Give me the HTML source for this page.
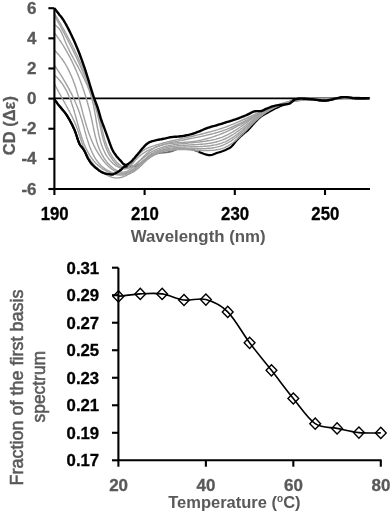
<!DOCTYPE html>
<html><head><meta charset="utf-8"><style>
html,body{margin:0;padding:0;background:#fff;width:392px;height:513px;overflow:hidden}
svg{display:block;font-family:"Liberation Sans",sans-serif;will-change:transform}
</style></head><body>
<svg width="392" height="513" viewBox="0 0 392 513">
<rect width="392" height="513" fill="#fff"/>
<line x1="54.5" y1="98.4" x2="370" y2="98.4" stroke="#000" stroke-width="1.6"/>
<path d="M54.5 99.3L55.5 100.8L56.5 102.2L57.5 103.6L58.5 104.9L59.5 106.1L60.5 107.3L61.5 108.5L62.5 109.7L63.5 110.9L64.5 112.1L65.5 113.4L66.5 114.8L67.5 116.4L68.5 118.1L69.5 119.8L70.5 121.7L71.5 123.6L72.5 125.6L73.5 127.7L74.5 129.9L75.5 132.5L76.5 135.5L77.5 138.6L78.5 141.5L79.5 144.0L80.5 145.7L81.5 146.8L82.5 147.9L83.5 149.3L84.5 151.1L85.5 153.1L86.5 155.2L87.5 157.4L88.5 159.3L89.5 160.9L90.5 162.4L91.5 163.7L92.5 164.8L93.5 165.8L94.5 166.7L95.5 167.6L96.5 168.4L97.5 169.2L98.5 170.0L99.5 170.8L100.5 171.4L101.5 171.9L102.5 172.4L103.5 172.9L104.5 173.3L105.5 173.6L106.5 173.8L107.5 174.0L108.5 174.1L109.5 174.2L110.5 174.3L111.5 174.3L112.5 174.3L113.5 174.1L114.5 173.7L115.5 173.3L116.5 172.7L117.5 172.1L118.5 171.5L119.5 170.9L120.5 170.2L121.5 169.2L122.5 168.1L123.5 167.3L124.5 166.7L125.5 166.6L126.5 166.5L127.5 166.5L128.5 166.4L129.5 166.4L130.5 166.4L131.5 166.4" fill="none" stroke="#000" stroke-width="2.2"/>
<path d="M198.5 151.9L199.5 152.2L200.5 152.5L201.5 152.9L202.5 153.3L203.5 153.7L204.5 154.0L205.5 154.4L206.5 154.7L207.5 154.9L208.5 155.1L209.5 155.2L210.5 155.2L211.5 155.0L212.5 154.7L213.5 154.3L214.5 153.9L215.5 153.5L216.5 153.1L217.5 152.8L218.5 152.5L219.5 152.2L220.5 151.9L221.5 151.5L222.5 151.2L223.5 150.8L224.5 150.4L225.5 150.0L226.5 149.5L227.5 149.1L228.5 148.6L229.5 148.0L230.5 147.3L231.5 146.5L232.5 145.5L233.5 144.3L234.5 143.0L235.5 141.7L236.5 140.6L237.5 139.5L238.5 138.5L239.5 137.5L240.5 136.5L241.5 135.6L242.5 134.6L243.5 133.8L244.5 133.0L245.5 132.2L246.5 131.4L247.5 130.6L248.5 129.6L249.5 128.5L250.5 127.3L251.5 126.2L252.5 125.1L253.5 123.9L254.5 122.8L255.5 121.7L256.5 120.7L257.5 119.7L258.5 118.7L259.5 117.8L260.5 117.0L261.5 116.2L262.5 115.5L263.5 114.9L264.5 114.4L265.5 113.8L266.5 113.3L267.5 112.7L268.5 112.1L269.5 111.6L270.5 111.0L271.5 110.4L272.5 109.9L273.5 109.4L274.5 108.8L275.5 108.3L276.5 107.9L277.5 107.4L278.5 107.0L279.5 106.5L280.5 106.1L281.5 105.7L282.5 105.3L283.5 104.9L284.5 104.5L285.5 104.0L286.5 103.5L287.5 103.0L288.5 102.5L289.5 102.0L290.5 101.5L291.5 101.0L292.5 100.6L293.5 100.2L294.5 99.9L295.5 99.6L296.5 99.3L297.5 99.1L298.5 98.9L299.5 98.8L300.5 98.8L301.5 98.8L302.5 98.8L303.5 98.9L304.5 98.9L305.5 99.0L306.5 99.1L307.5 99.2L308.5 99.2L309.5 99.3L310.5 99.4L311.5 99.5L312.5 99.5L313.5 99.6L314.5 99.7L315.5 99.9L316.5 100.0L317.5 100.1L318.5 100.2L319.5 100.4L320.5 100.5L321.5 100.6L322.5 100.6L323.5 100.7L324.5 100.7L325.5 100.7L326.5 100.6L327.5 100.5L328.5 100.3L329.5 100.1L330.5 99.9L331.5 99.7L332.5 99.4L333.5 99.2L334.5 99.0L335.5 98.8L336.5 98.6L337.5 98.4L338.5 98.1L339.5 97.9L340.5 97.7L341.5 97.5L342.5 97.4L343.5 97.3L344.5 97.3L345.5 97.3L346.5 97.4L347.5 97.5L348.5 97.6L349.5 97.7L350.5 97.8L351.5 98.0L352.5 98.1L353.5 98.2L354.5 98.2L355.5 98.3L356.5 98.3L357.5 98.3L358.5 98.3L359.5 98.3L360.5 98.4L361.5 98.4L362.5 98.4L363.5 98.4L364.5 98.4L365.5 98.4L366.5 98.4L367.5 98.4L368.5 98.4L369.5 98.4" fill="none" stroke="#000" stroke-width="2.2"/>
<path d="M131.5 166.4L132.5 166.4L133.5 166.3L134.5 166.3L135.5 166.1L136.5 165.6L137.5 165.1L138.5 164.4L139.5 163.8L140.5 163.2L141.5 162.5L142.5 161.8L143.5 161.0L144.5 160.2L145.5 159.3L146.5 158.5L147.5 157.6L148.5 156.8L149.5 156.1L150.5 155.5L151.5 155.0L152.5 154.6L153.5 154.3L154.5 154.0L155.5 153.8L156.5 153.6L157.5 153.4L158.5 153.2L159.5 153.1L160.5 152.9L161.5 152.8L162.5 152.7L163.5 152.6L164.5 152.5L165.5 152.4L166.5 152.3L167.5 152.2L168.5 152.0L169.5 151.9L170.5 151.7L171.5 151.4L172.5 151.1L173.5 150.6L174.5 150.2L175.5 149.8L176.5 149.4L177.5 149.0L178.5 148.8L179.5 148.6L180.5 148.6L181.5 148.6L182.5 148.6L183.5 148.7L184.5 148.7L185.5 148.8L186.5 148.9L187.5 149.0L188.5 149.1L189.5 149.1L190.5 149.3L191.5 149.5L192.5 149.7L193.5 150.0L194.5 150.4L195.5 150.8L196.5 151.1L197.5 151.5L198.5 151.9" fill="none" stroke="#707070" stroke-width="1.8"/>
<path d="M54.5 13.6L55.1 14.6L55.7 15.6L56.4 16.7L57.0 17.7L57.6 18.7L58.2 19.8L58.8 20.8L59.4 21.8L60.0 22.9L60.6 23.9L61.2 24.9L61.8 26.0L62.4 27.0L63.0 28.1L63.6 29.1L64.1 30.2L64.7 31.2L65.3 32.3L65.9 33.3L66.4 34.4L67.0 35.4L67.6 36.5L68.1 37.6L68.7 38.6L69.3 39.7L69.8 40.7L70.4 41.8L70.9 42.9L71.5 43.9L72.0 45.0L72.6 46.1L73.1 47.2L73.6 48.2L74.2 49.3L74.7 50.4L75.2 51.5L75.7 52.5L76.2 53.6L76.8 54.7L77.3 55.8L77.8 56.9L78.3 58.0L78.8 59.1L79.3 60.2L79.8 61.3L80.3 62.4L80.8 63.5L81.2 64.6L81.7 65.7L82.2 66.8L82.7 67.9L83.1 69.0L83.6 70.1L84.1 71.2L84.5 72.3L85.0 73.4L85.4 74.5L85.9 75.6L86.3 76.8L86.8 77.9L87.2 79.0L87.6 80.1L88.1 81.3L88.5 82.4L88.9 83.5L89.3 84.6L89.7 85.8L90.1 86.9L90.5 88.0L90.9 89.2L91.3 90.3L91.7 91.5L92.1 92.6L92.5 93.7L92.9 94.9L93.3 96.0L93.6 97.2L94.0 98.3L94.4 99.5L94.7 100.6L95.1 101.8L95.4 102.9L95.8 104.1L96.1 105.3L96.4 106.4L96.8 107.6L97.1 108.8L97.4 109.9L97.7 111.1L98.0 112.3L98.3 113.4L98.7 114.6L99.0 115.8L99.2 117.0L99.5 118.2L99.8 119.3L100.1 120.5L100.4 121.7L100.6 122.9L100.9 124.1L101.2 125.3L101.5 126.5L101.7 127.6L102.0 128.8L102.3 130.0L102.5 131.2L102.8 132.4L103.1 133.5L103.4 134.7L103.7 135.9L104.0 137.1L104.3 138.2L104.7 139.4L105.0 140.5L105.4 141.7L105.8 142.8L106.2 143.9L106.6 145.0L107.0 146.2L107.4 147.3L107.9 148.4L108.4 149.4L108.9 150.5L109.4 151.6L110.0 152.6L110.5 153.7L111.2 154.7L111.8 155.7L112.4 156.8L113.1 157.8L113.9 158.7L114.6 159.7L115.4 160.7L116.2 161.6L117.0 162.5L117.9 163.3L118.8 164.1L119.7 164.8L120.6 165.5L121.5 166.1L122.4 166.5L123.4 166.9L124.3 167.1L125.2 167.3L126.2 167.2L127.1 167.1L128.0 166.7L128.9 166.2L129.7 165.6L130.6 164.7L131.4 163.8L132.3 162.7L133.1 161.6L133.9 160.4L134.8 159.2L135.6 158.0L136.5 156.9L137.4 155.8L138.3 154.8L139.2 153.8L140.1 153.0L141.0 152.2L142.0 151.4L143.0 150.7L144.0 150.1L145.0 149.5L146.0 148.9L147.0 148.4L148.1 147.9L149.1 147.5L150.2 147.1L151.3 146.7L152.3 146.3L153.4 145.9L154.5 145.6L155.6 145.2L156.7 144.9L157.8 144.6L158.9 144.3L160.0 143.9L161.1 143.6L162.2 143.3L163.4 143.0L164.5 142.7L165.6 142.4L166.7 142.1L167.9 141.8L169.0 141.6L170.2 141.3L171.3 141.0L172.4 140.7L173.6 140.4L174.7 140.2L175.9 139.9L177.1 139.6L178.2 139.4L179.4 139.1L180.5 138.8L181.7 138.6L182.9 138.3L184.0 138.1L185.2 137.8L186.4 137.5L187.5 137.3L188.7 137.0L189.9 136.7L191.0 136.5L192.2 136.2L193.4 136.0L194.6 135.7L195.7 135.4L196.9 135.1L198.1 134.9L199.3 134.6L200.4 134.3L201.6 134.0L202.8 133.7L204.0 133.4L205.1 133.1L206.3 132.8L207.5 132.5L208.6 132.2L209.8 131.9L211.0 131.6L212.1 131.3L213.3 130.9L214.5 130.6L215.6 130.3L216.8 129.9L217.9 129.6L219.1 129.2L220.2 128.8L221.4 128.5L222.5 128.1L223.7 127.7L224.8 127.3L226.0 126.9L227.1 126.5L228.2 126.0L229.4 125.6L230.5 125.2L231.6 124.7L232.7 124.3L233.8 123.8L235.0 123.4L236.1 122.9L237.2 122.4L238.3 121.9L239.4 121.5L240.5 121.0L241.6 120.5L242.7 120.0L243.8 119.5L244.9 119.0L246.0 118.5L247.1 118.0L248.2 117.5L249.3 117.0L250.4 116.5L251.5 116.0L252.6 115.5L253.7 115.0L254.8 114.5L255.9 114.0L257.0 113.5L258.1 113.0L259.2 112.5L260.2 112.0L261.3 111.5L262.4 111.1L263.5 110.6L264.6 110.1L265.7 109.7L266.8 109.2L267.9 108.7L269.0 108.3L270.1 107.9L271.2 107.4L272.3 107.0L273.4 106.6L274.5 106.2L275.6 105.8L276.8 105.4L277.9 105.0L279.0 104.6L280.1 104.3L281.2 103.9L282.3 103.6L283.5 103.2L284.6 102.9L285.7 102.6L286.9 102.3L288.0 102.0L289.1 101.8L290.3 101.5L291.4 101.3L292.6 101.1L293.7 100.8L294.9 100.7L296.0 100.5L297.2 100.3L298.4 100.2L299.5 100.0L300.7 99.9L301.9 99.8L303.1 99.7L304.3 99.7L305.4 99.6L306.6 99.5L307.8 99.5L309.0 99.5L310.2 99.4L311.4 99.4L312.6 99.4L313.8 99.4L315.0 99.4L316.2 99.4L317.4 99.4L318.6 99.4L319.9 99.4L321.1 99.4L322.3 99.4L323.5 99.4L324.7 99.4L325.9 99.4L327.1 99.4L328.3 99.4L329.5 99.4L330.7 99.3L331.9 99.3L333.0 99.2L334.2 99.1L335.4 99.1L336.6 99.0L337.8 98.9L339.0 98.8L340.1 98.7L341.3 98.6L342.5 98.4L343.7 98.3L344.8 98.2L346.0 98.1L347.2 98.0L348.4 97.9L349.5 97.8L350.7 97.7L351.9 97.6L353.1 97.6L354.3 97.5L355.5 97.5L356.7 97.5L357.9 97.5L359.1 97.5L360.3 97.6L361.5 97.7L362.7 97.7L363.9 97.9L365.1 98.0L366.4 98.2L367.6 98.4L368.9 98.7L370.1 99.0" fill="none" stroke="#a0a0a0" stroke-width="1.4"/>
<path d="M54.5 15.5L55.1 16.5L55.7 17.6L56.3 18.6L56.8 19.7L57.4 20.8L58.0 21.8L58.6 22.9L59.1 23.9L59.7 25.0L60.3 26.0L60.9 27.1L61.4 28.1L62.0 29.2L62.6 30.3L63.1 31.3L63.7 32.4L64.3 33.4L64.8 34.5L65.4 35.6L66.0 36.6L66.5 37.7L67.1 38.8L67.6 39.8L68.2 40.9L68.7 42.0L69.3 43.0L69.8 44.1L70.4 45.2L70.9 46.2L71.5 47.3L72.0 48.4L72.5 49.5L73.1 50.5L73.6 51.6L74.1 52.7L74.6 53.8L75.2 54.9L75.7 56.0L76.2 57.0L76.7 58.1L77.2 59.2L77.7 60.3L78.2 61.4L78.7 62.5L79.2 63.6L79.7 64.7L80.2 65.8L80.7 66.9L81.2 68.0L81.7 69.1L82.2 70.2L82.6 71.3L83.1 72.4L83.6 73.5L84.0 74.6L84.5 75.7L85.0 76.8L85.4 77.9L85.9 79.1L86.3 80.2L86.8 81.3L87.2 82.4L87.6 83.5L88.1 84.7L88.5 85.8L88.9 86.9L89.3 88.1L89.7 89.2L90.1 90.3L90.5 91.5L90.9 92.6L91.3 93.7L91.7 94.9L92.1 96.0L92.5 97.2L92.9 98.3L93.2 99.5L93.6 100.6L94.0 101.8L94.3 102.9L94.7 104.1L95.0 105.2L95.3 106.4L95.7 107.6L96.0 108.7L96.3 109.9L96.6 111.1L97.0 112.2L97.3 113.4L97.6 114.6L97.9 115.8L98.1 117.0L98.4 118.1L98.7 119.3L99.0 120.5L99.2 121.7L99.5 122.9L99.8 124.1L100.0 125.3L100.3 126.5L100.5 127.7L100.8 128.9L101.0 130.1L101.3 131.3L101.6 132.5L101.8 133.6L102.1 134.8L102.4 136.0L102.7 137.2L103.0 138.4L103.3 139.5L103.7 140.7L104.0 141.8L104.4 143.0L104.7 144.1L105.1 145.3L105.5 146.4L105.9 147.5L106.4 148.6L106.8 149.7L107.3 150.8L107.8 151.9L108.4 153.0L108.9 154.1L109.5 155.1L110.1 156.1L110.8 157.2L111.5 158.2L112.2 159.2L112.9 160.2L113.7 161.1L114.5 162.1L115.3 163.0L116.2 163.9L117.0 164.7L117.9 165.5L118.8 166.2L119.8 166.8L120.7 167.4L121.6 167.8L122.6 168.2L123.5 168.4L124.5 168.5L125.4 168.5L126.4 168.4L127.3 168.1L128.2 167.7L129.1 167.1L130.0 166.3L130.9 165.5L131.7 164.6L132.6 163.6L133.5 162.5L134.4 161.5L135.2 160.4L136.1 159.4L137.0 158.5L137.9 157.5L138.9 156.7L139.8 155.9L140.8 155.1L141.7 154.3L142.7 153.6L143.7 153.0L144.7 152.4L145.7 151.8L146.7 151.2L147.7 150.6L148.7 150.1L149.7 149.6L150.8 149.2L151.8 148.7L152.9 148.3L154.0 147.8L155.0 147.4L156.1 147.0L157.2 146.7L158.3 146.3L159.4 145.9L160.5 145.6L161.6 145.2L162.7 144.9L163.8 144.5L164.9 144.2L166.0 143.9L167.2 143.6L168.3 143.3L169.4 143.0L170.6 142.7L171.7 142.5L172.9 142.2L174.0 141.9L175.2 141.7L176.4 141.4L177.5 141.2L178.7 140.9L179.8 140.7L181.0 140.4L182.2 140.2L183.4 140.0L184.5 139.7L185.7 139.5L186.9 139.3L188.1 139.0L189.3 138.8L190.4 138.6L191.6 138.3L192.8 138.1L194.0 137.9L195.2 137.6L196.4 137.4L197.6 137.2L198.7 136.9L199.9 136.7L201.1 136.4L202.3 136.2L203.5 135.9L204.7 135.7L205.8 135.4L207.0 135.1L208.2 134.8L209.4 134.6L210.6 134.3L211.7 134.0L212.9 133.7L214.1 133.3L215.2 133.0L216.4 132.7L217.5 132.4L218.7 132.0L219.9 131.6L221.0 131.3L222.2 130.9L223.3 130.5L224.4 130.1L225.6 129.7L226.7 129.3L227.8 128.8L228.9 128.4L230.1 127.9L231.2 127.5L232.3 127.0L233.4 126.5L234.5 126.0L235.6 125.5L236.7 125.0L237.8 124.5L238.9 124.0L240.0 123.4L241.1 122.9L242.2 122.4L243.2 121.8L244.3 121.3L245.4 120.7L246.5 120.2L247.6 119.6L248.6 119.0L249.7 118.5L250.8 117.9L251.9 117.4L252.9 116.8L254.0 116.3L255.1 115.7L256.2 115.1L257.2 114.6L258.3 114.0L259.4 113.5L260.5 112.9L261.5 112.4L262.6 111.9L263.7 111.3L264.8 110.8L265.8 110.3L266.9 109.8L268.0 109.3L269.1 108.8L270.2 108.3L271.2 107.8L272.3 107.3L273.4 106.8L274.5 106.4L275.6 105.9L276.7 105.5L277.8 105.1L278.9 104.7L280.0 104.3L281.1 103.9L282.3 103.5L283.4 103.1L284.5 102.8L285.6 102.5L286.7 102.2L287.9 101.9L289.0 101.6L290.2 101.3L291.3 101.1L292.5 100.8L293.6 100.6L294.8 100.4L295.9 100.2L297.1 100.1L298.3 99.9L299.5 99.8L300.7 99.7L301.8 99.6L303.0 99.6L304.2 99.5L305.4 99.5L306.7 99.5L307.9 99.4L309.1 99.4L310.3 99.4L311.5 99.4L312.7 99.4L313.9 99.5L315.1 99.5L316.4 99.5L317.6 99.5L318.8 99.5L320.0 99.6L321.2 99.6L322.5 99.6L323.7 99.6L324.9 99.6L326.1 99.6L327.3 99.6L328.5 99.6L329.7 99.5L330.9 99.5L332.1 99.4L333.3 99.4L334.5 99.3L335.6 99.2L336.8 99.1L338.0 99.0L339.2 98.8L340.3 98.7L341.5 98.6L342.7 98.4L343.8 98.3L345.0 98.2L346.2 98.0L347.3 97.9L348.5 97.8L349.7 97.7L350.8 97.6L352.0 97.5L353.2 97.5L354.4 97.4L355.6 97.4L356.8 97.4L358.0 97.4L359.2 97.5L360.4 97.6L361.6 97.7L362.9 97.8L364.1 98.0L365.4 98.2L366.6 98.4L367.9 98.7L369.2 99.1" fill="none" stroke="#a0a0a0" stroke-width="1.4"/>
<path d="M54.5 24.9L55.5 25.4L56.4 26.0L57.2 26.7L58.0 27.4L58.7 28.2L59.4 29.0L60.0 30.0L60.6 30.9L61.1 31.9L61.6 32.9L62.1 34.0L62.6 35.1L63.1 36.2L63.6 37.3L64.0 38.5L64.5 39.6L64.9 40.7L65.4 41.8L65.9 43.0L66.3 44.1L66.8 45.2L67.3 46.3L67.8 47.3L68.4 48.4L68.9 49.5L69.4 50.6L69.9 51.6L70.5 52.7L71.0 53.8L71.6 54.8L72.1 55.9L72.7 56.9L73.2 58.0L73.8 59.0L74.3 60.0L74.9 61.1L75.5 62.1L76.0 63.1L76.6 64.2L77.1 65.2L77.7 66.2L78.3 67.3L78.8 68.3L79.4 69.4L79.9 70.4L80.5 71.4L81.0 72.5L81.6 73.5L82.1 74.5L82.6 75.6L83.2 76.6L83.7 77.7L84.2 78.8L84.7 79.8L85.2 80.9L85.7 82.0L86.2 83.0L86.7 84.1L87.2 85.2L87.6 86.3L88.1 87.4L88.5 88.5L88.9 89.6L89.4 90.7L89.8 91.9L90.2 93.0L90.5 94.2L90.9 95.3L91.3 96.5L91.6 97.7L91.9 98.8L92.2 100.0L92.6 101.2L92.8 102.5L93.1 103.7L93.4 104.9L93.7 106.1L93.9 107.4L94.1 108.6L94.4 109.9L94.6 111.1L94.8 112.4L95.1 113.6L95.3 114.9L95.5 116.1L95.7 117.4L95.9 118.7L96.1 119.9L96.3 121.2L96.5 122.5L96.8 123.7L97.0 125.0L97.2 126.2L97.4 127.5L97.6 128.7L97.9 130.0L98.1 131.2L98.4 132.4L98.6 133.7L98.9 134.9L99.2 136.1L99.5 137.3L99.7 138.5L100.1 139.6L100.4 140.8L100.7 142.0L101.1 143.1L101.4 144.3L101.8 145.4L102.2 146.5L102.6 147.6L103.1 148.7L103.5 149.8L104.0 150.8L104.5 151.8L105.0 152.9L105.5 153.9L106.1 154.9L106.7 155.8L107.3 156.8L107.9 157.7L108.6 158.6L109.3 159.5L110.0 160.4L110.8 161.2L111.5 162.0L112.3 162.8L113.1 163.6L114.0 164.3L114.9 165.0L115.7 165.6L116.6 166.2L117.5 166.7L118.5 167.2L119.4 167.6L120.4 168.0L121.3 168.3L122.3 168.5L123.2 168.7L124.2 168.8L125.2 168.8L126.2 168.7L127.2 168.6L128.1 168.3L129.1 168.0L130.1 167.6L131.0 167.2L132.0 166.6L133.0 166.0L133.9 165.4L134.8 164.7L135.8 164.0L136.7 163.2L137.6 162.4L138.5 161.6L139.4 160.7L140.3 159.9L141.2 159.0L142.1 158.1L143.0 157.2L143.9 156.3L144.8 155.4L145.8 154.6L146.7 153.7L147.6 152.9L148.6 152.0L149.5 151.2L150.5 150.5L151.5 149.8L152.5 149.1L153.5 148.5L154.5 147.9L155.6 147.3L156.6 146.8L157.7 146.4L158.8 146.0L159.9 145.6L161.0 145.2L162.2 144.9L163.3 144.6L164.5 144.4L165.6 144.1L166.8 143.9L168.0 143.7L169.2 143.6L170.4 143.4L171.6 143.3L172.8 143.2L174.0 143.1L175.2 143.0L176.4 142.9L177.7 142.8L178.9 142.7L180.1 142.6L181.3 142.6L182.6 142.5L183.8 142.4L185.0 142.3L186.2 142.2L187.5 142.1L188.7 142.0L189.9 141.9L191.1 141.8L192.3 141.6L193.5 141.4L194.7 141.3L195.9 141.1L197.1 140.9L198.2 140.7L199.4 140.4L200.6 140.2L201.8 139.9L202.9 139.7L204.1 139.4L205.2 139.1L206.4 138.8L207.5 138.5L208.7 138.2L209.8 137.9L211.0 137.5L212.1 137.2L213.2 136.8L214.4 136.4L215.5 136.0L216.6 135.6L217.7 135.2L218.9 134.8L220.0 134.4L221.1 133.9L222.2 133.5L223.3 133.0L224.4 132.6L225.5 132.1L226.6 131.6L227.7 131.1L228.8 130.6L229.8 130.0L230.9 129.5L232.0 129.0L233.1 128.5L234.2 127.9L235.2 127.4L236.3 126.8L237.4 126.2L238.5 125.7L239.5 125.1L240.6 124.5L241.7 123.9L242.7 123.4L243.8 122.8L244.9 122.2L245.9 121.6L247.0 121.0L248.1 120.4L249.1 119.8L250.2 119.2L251.2 118.6L252.3 118.1L253.4 117.5L254.4 116.9L255.5 116.3L256.6 115.7L257.6 115.1L258.7 114.6L259.8 114.0L260.8 113.4L261.9 112.9L263.0 112.3L264.0 111.8L265.1 111.2L266.2 110.7L267.3 110.2L268.3 109.7L269.4 109.2L270.5 108.6L271.6 108.2L272.7 107.7L273.8 107.2L274.8 106.7L275.9 106.3L277.0 105.8L278.1 105.4L279.2 105.0L280.4 104.6L281.5 104.2L282.6 103.8L283.7 103.4L284.8 103.1L285.9 102.8L287.1 102.4L288.2 102.1L289.3 101.8L290.5 101.6L291.6 101.3L292.8 101.1L293.9 100.9L295.1 100.7L296.2 100.5L297.4 100.3L298.6 100.2L299.8 100.0L301.0 99.9L302.1 99.8L303.3 99.7L304.5 99.7L305.7 99.6L306.9 99.6L308.1 99.5L309.3 99.5L310.5 99.5L311.7 99.4L312.9 99.4L314.1 99.4L315.4 99.4L316.6 99.4L317.8 99.4L319.0 99.4L320.2 99.4L321.4 99.4L322.6 99.4L323.8 99.4L325.0 99.4L326.2 99.4L327.4 99.4L328.6 99.4L329.8 99.3L331.0 99.3L332.2 99.2L333.4 99.1L334.6 99.1L335.8 99.0L337.0 98.9L338.1 98.8L339.3 98.7L340.5 98.6L341.7 98.5L342.9 98.4L344.0 98.2L345.2 98.1L346.4 98.0L347.6 98.0L348.7 97.9L349.9 97.8L351.1 97.7L352.3 97.7L353.5 97.6L354.7 97.6L355.9 97.6L357.1 97.6L358.3 97.7L359.5 97.7L360.7 97.8L361.9 97.9L363.1 98.0L364.4 98.2L365.6 98.3L366.8 98.6L368.1 98.8" fill="none" stroke="#a0a0a0" stroke-width="1.4"/>
<path d="M54.5 33.1L55.2 33.9L55.8 34.8L56.5 35.6L57.1 36.5L57.8 37.4L58.4 38.3L59.0 39.2L59.7 40.1L60.3 41.0L60.9 41.9L61.5 42.8L62.1 43.8L62.7 44.7L63.3 45.7L63.9 46.6L64.5 47.6L65.1 48.6L65.7 49.6L66.2 50.6L66.8 51.6L67.4 52.6L67.9 53.6L68.5 54.6L69.0 55.6L69.6 56.6L70.1 57.7L70.6 58.7L71.2 59.8L71.7 60.8L72.2 61.9L72.7 63.0L73.2 64.0L73.7 65.1L74.2 66.2L74.7 67.3L75.2 68.4L75.7 69.5L76.2 70.6L76.7 71.7L77.1 72.8L77.6 73.9L78.1 75.0L78.5 76.2L79.0 77.3L79.4 78.4L79.8 79.6L80.3 80.7L80.7 81.8L81.1 83.0L81.6 84.1L82.0 85.3L82.4 86.5L82.8 87.6L83.2 88.8L83.6 89.9L84.0 91.1L84.3 92.3L84.7 93.5L85.1 94.6L85.5 95.8L85.8 97.0L86.2 98.2L86.5 99.4L86.9 100.5L87.2 101.7L87.6 102.9L87.9 104.1L88.2 105.3L88.5 106.5L88.9 107.7L89.2 108.9L89.5 110.1L89.8 111.2L90.1 112.4L90.4 113.6L90.6 114.8L90.9 116.0L91.2 117.2L91.5 118.4L91.7 119.6L92.0 120.8L92.2 122.0L92.5 123.2L92.7 124.4L93.0 125.5L93.2 126.7L93.5 127.9L93.7 129.1L93.9 130.3L94.2 131.5L94.5 132.6L94.7 133.8L95.0 135.0L95.3 136.1L95.6 137.3L95.9 138.4L96.2 139.6L96.5 140.7L96.8 141.9L97.2 143.0L97.5 144.1L97.9 145.3L98.3 146.4L98.7 147.5L99.2 148.6L99.6 149.7L100.1 150.8L100.6 151.8L101.1 152.9L101.7 154.0L102.2 155.0L102.9 156.1L103.5 157.1L104.1 158.2L104.8 159.2L105.6 160.2L106.3 161.2L107.1 162.2L107.9 163.2L108.8 164.1L109.6 165.0L110.5 165.9L111.5 166.7L112.4 167.5L113.3 168.3L114.3 169.0L115.3 169.6L116.3 170.2L117.3 170.7L118.3 171.1L119.3 171.5L120.3 171.8L121.4 172.0L122.4 172.1L123.4 172.1L124.4 172.0L125.4 171.8L126.5 171.5L127.5 171.1L128.4 170.5L129.4 169.9L130.4 169.2L131.4 168.5L132.3 167.7L133.3 166.9L134.2 166.0L135.2 165.2L136.1 164.4L137.0 163.5L137.9 162.7L138.8 161.9L139.8 161.0L140.7 160.2L141.6 159.4L142.5 158.7L143.4 157.9L144.3 157.1L145.3 156.4L146.2 155.6L147.1 154.9L148.1 154.2L149.0 153.6L150.0 152.9L151.0 152.3L151.9 151.7L152.9 151.2L154.0 150.6L155.0 150.1L156.0 149.6L157.1 149.2L158.1 148.7L159.2 148.3L160.3 147.9L161.4 147.6L162.5 147.2L163.6 146.9L164.7 146.6L165.8 146.3L167.0 146.0L168.1 145.8L169.3 145.5L170.4 145.3L171.6 145.1L172.8 144.9L174.0 144.7L175.1 144.5L176.3 144.3L177.5 144.2L178.7 144.0L179.9 143.9L181.1 143.8L182.3 143.6L183.6 143.5L184.8 143.4L186.0 143.3L187.2 143.2L188.4 143.0L189.7 142.9L190.9 142.8L192.1 142.7L193.4 142.6L194.6 142.5L195.8 142.4L197.0 142.2L198.2 142.1L199.5 142.0L200.7 141.8L201.9 141.7L203.1 141.5L204.3 141.4L205.5 141.2L206.7 141.0L207.9 140.8L209.1 140.6L210.3 140.4L211.5 140.2L212.7 139.9L213.8 139.6L215.0 139.4L216.2 139.1L217.3 138.7L218.5 138.4L219.6 138.0L220.7 137.7L221.8 137.3L222.9 136.8L224.0 136.4L225.1 135.9L226.2 135.4L227.3 134.9L228.3 134.4L229.4 133.8L230.4 133.2L231.5 132.7L232.5 132.1L233.5 131.4L234.5 130.8L235.6 130.2L236.6 129.5L237.6 128.9L238.6 128.2L239.6 127.5L240.6 126.8L241.6 126.1L242.6 125.4L243.6 124.7L244.6 124.0L245.6 123.3L246.6 122.6L247.6 121.9L248.6 121.2L249.6 120.5L250.6 119.8L251.6 119.1L252.6 118.5L253.6 117.8L254.6 117.1L255.6 116.4L256.7 115.8L257.7 115.2L258.7 114.5L259.8 113.9L260.8 113.3L261.9 112.7L262.9 112.2L264.0 111.6L265.1 111.1L266.1 110.5L267.2 110.0L268.3 109.5L269.4 109.0L270.5 108.5L271.6 108.1L272.7 107.6L273.8 107.2L275.0 106.8L276.1 106.3L277.2 105.9L278.3 105.6L279.5 105.2L280.6 104.8L281.7 104.5L282.9 104.1L284.0 103.8L285.2 103.5L286.3 103.2L287.5 102.9L288.6 102.6L289.8 102.3L291.0 102.1L292.1 101.8L293.3 101.6L294.4 101.4L295.6 101.2L296.8 101.0L297.9 100.8L299.1 100.6L300.3 100.5L301.5 100.3L302.6 100.1L303.8 100.0L305.0 99.9L306.2 99.8L307.3 99.7L308.5 99.6L309.7 99.5L310.9 99.4L312.0 99.3L313.2 99.2L314.4 99.1L315.6 99.1L316.8 99.0L318.0 99.0L319.1 98.9L320.3 98.9L321.5 98.9L322.7 98.8L323.9 98.8L325.1 98.8L326.3 98.8L327.5 98.7L328.7 98.7L329.8 98.7L331.0 98.7L332.2 98.7L333.4 98.7L334.6 98.7L335.8 98.7L337.0 98.7L338.2 98.7L339.4 98.6L340.6 98.6L341.8 98.6L343.0 98.6L344.2 98.6L345.4 98.6L346.6 98.6L347.8 98.6L349.0 98.5L350.2 98.5L351.4 98.5L352.6 98.5L353.8 98.4L355.0 98.4L356.2 98.3L357.4 98.3L358.6 98.2L359.8 98.2L361.0 98.1L362.2 98.0L363.4 97.9L364.6 97.9L365.8 97.8L367.0 97.7" fill="none" stroke="#a0a0a0" stroke-width="1.4"/>
<path d="M54.5 50.2L55.4 51.1L56.2 52.0L57.0 52.9L57.9 53.8L58.7 54.7L59.4 55.7L60.2 56.6L60.9 57.6L61.7 58.5L62.4 59.5L63.0 60.5L63.7 61.5L64.4 62.5L65.0 63.5L65.6 64.5L66.2 65.6L66.8 66.6L67.4 67.7L67.9 68.7L68.5 69.8L69.0 70.8L69.5 71.9L70.0 73.0L70.5 74.1L71.0 75.2L71.5 76.3L72.0 77.4L72.4 78.5L72.9 79.6L73.3 80.7L73.7 81.9L74.1 83.0L74.5 84.1L74.9 85.3L75.3 86.4L75.7 87.6L76.1 88.7L76.4 89.9L76.8 91.0L77.1 92.2L77.5 93.4L77.8 94.5L78.2 95.7L78.5 96.9L78.8 98.1L79.1 99.2L79.5 100.4L79.8 101.6L80.1 102.8L80.4 104.0L80.7 105.1L81.1 106.3L81.4 107.5L81.7 108.7L82.0 109.9L82.3 111.1L82.6 112.3L82.9 113.4L83.2 114.6L83.6 115.8L83.9 117.0L84.2 118.2L84.5 119.3L84.9 120.5L85.2 121.7L85.5 122.8L85.9 124.0L86.2 125.2L86.6 126.3L86.9 127.5L87.3 128.6L87.7 129.8L88.1 130.9L88.5 132.1L88.8 133.2L89.3 134.4L89.7 135.5L90.1 136.6L90.5 137.7L91.0 138.8L91.4 139.9L91.9 141.0L92.3 142.1L92.8 143.2L93.3 144.3L93.8 145.4L94.4 146.4L94.9 147.5L95.4 148.6L96.0 149.6L96.6 150.6L97.2 151.7L97.8 152.7L98.4 153.7L99.0 154.7L99.7 155.7L100.4 156.7L101.0 157.7L101.7 158.6L102.5 159.6L103.2 160.5L104.0 161.5L104.7 162.4L105.5 163.3L106.3 164.2L107.2 165.0L108.0 165.9L108.8 166.7L109.7 167.4L110.6 168.2L111.5 168.9L112.4 169.5L113.3 170.1L114.2 170.7L115.2 171.2L116.1 171.7L117.1 172.1L118.0 172.4L119.0 172.7L120.0 172.9L120.9 173.1L121.9 173.2L122.9 173.2L123.9 173.1L124.9 173.0L125.9 172.7L126.9 172.4L127.9 172.1L129.0 171.6L130.0 171.1L131.0 170.6L131.9 169.9L132.9 169.3L133.9 168.6L134.8 167.9L135.8 167.2L136.7 166.4L137.7 165.6L138.6 164.8L139.5 164.0L140.4 163.1L141.4 162.3L142.3 161.5L143.2 160.6L144.1 159.8L145.1 159.0L146.0 158.2L146.9 157.4L147.9 156.6L148.8 155.8L149.8 155.1L150.8 154.4L151.8 153.7L152.8 153.1L153.8 152.5L154.8 151.9L155.8 151.4L156.9 150.9L158.0 150.4L159.0 150.0L160.1 149.6L161.2 149.2L162.3 148.8L163.4 148.4L164.6 148.1L165.7 147.8L166.8 147.6L168.0 147.3L169.1 147.1L170.3 146.8L171.5 146.6L172.7 146.4L173.8 146.3L175.0 146.1L176.2 146.0L177.4 145.8L178.6 145.7L179.8 145.6L181.0 145.5L182.2 145.4L183.5 145.3L184.7 145.3L185.9 145.2L187.1 145.1L188.3 145.0L189.6 145.0L190.8 144.9L192.0 144.8L193.2 144.8L194.5 144.7L195.7 144.6L196.9 144.6L198.1 144.5L199.3 144.4L200.5 144.3L201.8 144.2L203.0 144.1L204.2 144.0L205.4 143.9L206.6 143.7L207.8 143.6L208.9 143.4L210.1 143.2L211.3 143.0L212.5 142.8L213.6 142.5L214.8 142.3L215.9 142.0L217.1 141.7L218.2 141.4L219.3 141.1L220.4 140.7L221.5 140.3L222.6 139.9L223.7 139.4L224.8 139.0L225.8 138.5L226.9 138.0L227.9 137.4L229.0 136.9L230.0 136.3L231.0 135.7L232.0 135.1L233.1 134.5L234.1 133.8L235.1 133.1L236.1 132.5L237.0 131.8L238.0 131.1L239.0 130.4L240.0 129.7L241.0 128.9L242.0 128.2L242.9 127.5L243.9 126.7L244.9 126.0L245.9 125.2L246.8 124.5L247.8 123.7L248.8 123.0L249.8 122.2L250.7 121.5L251.7 120.7L252.7 120.0L253.7 119.2L254.7 118.5L255.7 117.8L256.7 117.1L257.7 116.4L258.7 115.7L259.7 115.0L260.7 114.3L261.7 113.7L262.8 113.0L263.8 112.4L264.8 111.8L265.9 111.2L266.9 110.6L268.0 110.0L269.1 109.5L270.2 108.9L271.2 108.4L272.3 107.9L273.4 107.4L274.5 107.0L275.6 106.5L276.7 106.1L277.8 105.6L279.0 105.2L280.1 104.8L281.2 104.4L282.3 104.1L283.5 103.7L284.6 103.4L285.8 103.0L286.9 102.7L288.1 102.4L289.2 102.2L290.4 101.9L291.5 101.6L292.7 101.4L293.8 101.2L295.0 101.0L296.2 100.8L297.3 100.6L298.5 100.5L299.7 100.3L300.9 100.2L302.0 100.1L303.2 100.0L304.4 99.9L305.6 99.8L306.7 99.7L307.9 99.7L309.1 99.6L310.3 99.6L311.5 99.5L312.6 99.5L313.8 99.5L315.0 99.4L316.2 99.4L317.4 99.4L318.6 99.4L319.8 99.4L321.0 99.4L322.2 99.3L323.3 99.3L324.5 99.3L325.7 99.3L326.9 99.3L328.1 99.3L329.3 99.2L330.5 99.2L331.7 99.2L332.9 99.1L334.1 99.0L335.3 99.0L336.5 98.9L337.6 98.8L338.8 98.7L340.0 98.7L341.2 98.6L342.4 98.5L343.6 98.4L344.8 98.3L346.0 98.2L347.2 98.1L348.4 98.0L349.6 98.0L350.8 97.9L352.0 97.8L353.2 97.8L354.4 97.8L355.6 97.7L356.8 97.7L358.0 97.7L359.2 97.7L360.4 97.8L361.6 97.8L362.8 97.9L364.0 98.0L365.2 98.1L366.4 98.2L367.6 98.4L368.8 98.6L370.0 98.8" fill="none" stroke="#a0a0a0" stroke-width="1.4"/>
<path d="M54.5 65.3L55.2 66.3L55.9 67.4L56.5 68.4L57.2 69.4L57.9 70.4L58.5 71.4L59.2 72.4L59.8 73.4L60.5 74.4L61.1 75.4L61.7 76.4L62.3 77.4L62.9 78.4L63.5 79.4L64.1 80.4L64.7 81.4L65.3 82.4L65.9 83.4L66.4 84.4L67.0 85.4L67.6 86.4L68.1 87.4L68.7 88.4L69.2 89.4L69.7 90.4L70.2 91.4L70.8 92.4L71.3 93.4L71.8 94.4L72.3 95.4L72.8 96.5L73.3 97.5L73.7 98.5L74.2 99.6L74.7 100.6L75.1 101.7L75.6 102.7L76.0 103.8L76.5 104.9L76.9 105.9L77.3 107.0L77.8 108.1L78.2 109.2L78.6 110.3L79.0 111.5L79.4 112.6L79.8 113.7L80.2 114.9L80.6 116.0L80.9 117.2L81.3 118.4L81.7 119.6L82.0 120.8L82.4 122.0L82.7 123.2L83.1 124.4L83.4 125.7L83.8 126.9L84.1 128.1L84.4 129.4L84.8 130.6L85.1 131.9L85.5 133.2L85.8 134.4L86.2 135.7L86.5 136.9L86.9 138.1L87.3 139.4L87.7 140.6L88.1 141.8L88.5 143.1L88.9 144.3L89.3 145.5L89.7 146.7L90.2 147.9L90.7 149.0L91.1 150.2L91.6 151.3L92.1 152.4L92.7 153.5L93.2 154.6L93.8 155.7L94.4 156.8L95.0 157.8L95.6 158.8L96.3 159.8L96.9 160.7L97.6 161.7L98.4 162.6L99.1 163.5L99.9 164.3L100.7 165.2L101.5 166.0L102.4 166.7L103.3 167.5L104.2 168.2L105.1 168.8L106.1 169.5L107.0 170.1L108.0 170.6L109.0 171.2L110.1 171.6L111.1 172.1L112.1 172.5L113.2 172.8L114.3 173.2L115.3 173.4L116.4 173.7L117.5 173.8L118.6 174.0L119.7 174.0L120.8 174.1L121.8 174.1L122.9 174.0L124.0 173.9L125.1 173.7L126.1 173.4L127.2 173.1L128.2 172.8L129.3 172.4L130.3 171.9L131.3 171.4L132.3 170.9L133.3 170.3L134.2 169.7L135.2 169.0L136.2 168.3L137.1 167.6L138.0 166.9L139.0 166.1L139.9 165.3L140.8 164.5L141.7 163.7L142.7 162.9L143.6 162.1L144.5 161.2L145.4 160.4L146.3 159.6L147.3 158.8L148.2 158.0L149.1 157.3L150.1 156.5L151.0 155.8L152.0 155.1L153.0 154.5L154.0 153.9L155.0 153.3L156.0 152.7L157.1 152.2L158.1 151.7L159.2 151.3L160.3 150.9L161.4 150.5L162.5 150.1L163.6 149.8L164.7 149.5L165.8 149.2L167.0 148.9L168.1 148.7L169.3 148.4L170.4 148.2L171.6 148.1L172.8 147.9L174.0 147.7L175.2 147.6L176.4 147.5L177.6 147.4L178.8 147.3L180.0 147.2L181.2 147.2L182.4 147.1L183.6 147.0L184.9 147.0L186.1 147.0L187.3 146.9L188.5 146.9L189.8 146.9L191.0 146.8L192.2 146.8L193.5 146.8L194.7 146.8L195.9 146.7L197.2 146.7L198.4 146.6L199.6 146.6L200.8 146.5L202.0 146.5L203.3 146.4L204.5 146.3L205.7 146.2L206.9 146.1L208.1 146.0L209.3 145.9L210.4 145.7L211.6 145.5L212.8 145.3L214.0 145.1L215.1 144.9L216.3 144.7L217.4 144.4L218.5 144.1L219.6 143.8L220.7 143.4L221.8 143.1L222.9 142.6L224.0 142.2L225.1 141.8L226.1 141.3L227.2 140.8L228.2 140.2L229.2 139.6L230.2 139.0L231.2 138.4L232.2 137.8L233.2 137.1L234.2 136.5L235.2 135.8L236.1 135.1L237.1 134.3L238.1 133.6L239.0 132.8L240.0 132.1L240.9 131.3L241.9 130.5L242.8 129.7L243.7 128.9L244.7 128.1L245.6 127.3L246.6 126.5L247.5 125.7L248.4 124.9L249.4 124.1L250.3 123.3L251.3 122.5L252.2 121.7L253.2 120.9L254.1 120.1L255.1 119.3L256.1 118.5L257.0 117.8L258.0 117.0L259.0 116.3L260.0 115.6L261.0 114.9L262.0 114.2L263.0 113.5L264.1 112.8L265.1 112.2L266.1 111.6L267.2 111.0L268.2 110.4L269.3 109.8L270.4 109.2L271.4 108.7L272.5 108.2L273.6 107.7L274.7 107.2L275.8 106.7L276.9 106.2L278.0 105.8L279.1 105.3L280.2 104.9L281.4 104.5L282.5 104.1L283.6 103.8L284.8 103.4L285.9 103.1L287.0 102.8L288.2 102.5L289.3 102.2L290.5 101.9L291.7 101.7L292.8 101.4L294.0 101.2L295.2 101.0L296.3 100.8L297.5 100.6L298.7 100.5L299.8 100.3L301.0 100.2L302.2 100.1L303.4 100.0L304.6 99.9L305.7 99.8L306.9 99.7L308.1 99.7L309.3 99.6L310.5 99.6L311.7 99.5L312.9 99.5L314.1 99.4L315.3 99.4L316.5 99.4L317.6 99.4L318.8 99.4L320.0 99.3L321.2 99.3L322.4 99.3L323.6 99.3L324.8 99.3L326.0 99.2L327.2 99.2L328.4 99.2L329.6 99.2L330.8 99.1L332.0 99.1L333.2 99.0L334.4 99.0L335.6 98.9L336.8 98.8L338.0 98.7L339.2 98.7L340.4 98.6L341.6 98.5L342.8 98.4L344.0 98.4L345.2 98.3L346.3 98.2L347.5 98.1L348.7 98.1L349.9 98.0L351.1 98.0L352.3 97.9L353.5 97.9L354.7 97.9L355.9 97.9L357.1 97.9L358.3 97.9L359.5 97.9L360.7 97.9L361.9 98.0L363.2 98.1L364.4 98.2L365.6 98.3L366.8 98.4L368.0 98.5" fill="none" stroke="#a0a0a0" stroke-width="1.4"/>
<path d="M54.5 75.2L55.4 76.0L56.3 76.8L57.1 77.6L57.9 78.4L58.7 79.3L59.5 80.2L60.2 81.0L60.9 82.0L61.6 82.9L62.3 83.8L63.0 84.8L63.6 85.8L64.2 86.8L64.8 87.8L65.4 88.8L66.0 89.8L66.5 90.9L67.1 91.9L67.6 93.0L68.1 94.1L68.6 95.2L69.0 96.3L69.5 97.4L70.0 98.6L70.4 99.7L70.8 100.8L71.2 102.0L71.6 103.2L72.0 104.3L72.4 105.5L72.8 106.7L73.2 107.9L73.6 109.1L73.9 110.3L74.3 111.5L74.6 112.7L75.0 113.9L75.3 115.1L75.7 116.3L76.0 117.6L76.3 118.8L76.7 120.0L77.0 121.2L77.3 122.4L77.7 123.7L78.0 124.9L78.3 126.1L78.7 127.3L79.0 128.5L79.4 129.7L79.7 130.9L80.1 132.1L80.4 133.3L80.8 134.5L81.2 135.7L81.6 136.9L82.0 138.0L82.3 139.2L82.8 140.3L83.2 141.5L83.6 142.6L84.0 143.8L84.5 144.9L85.0 146.0L85.4 147.1L85.9 148.1L86.4 149.2L87.0 150.3L87.5 151.3L88.0 152.4L88.6 153.4L89.2 154.4L89.8 155.4L90.4 156.3L91.1 157.3L91.7 158.2L92.4 159.1L93.1 160.0L93.8 160.9L94.6 161.8L95.3 162.6L96.1 163.5L97.0 164.3L97.8 165.1L98.7 165.8L99.6 166.6L100.5 167.3L101.4 168.0L102.3 168.6L103.3 169.3L104.3 169.9L105.3 170.5L106.3 171.0L107.3 171.6L108.4 172.0L109.4 172.5L110.5 172.9L111.5 173.3L112.6 173.7L113.7 174.0L114.8 174.3L115.9 174.5L117.0 174.7L118.1 174.8L119.2 175.0L120.3 175.0L121.4 175.1L122.5 175.0L123.5 175.0L124.6 174.9L125.7 174.7L126.8 174.5L127.8 174.2L128.9 173.9L129.9 173.6L130.9 173.1L131.9 172.7L132.9 172.1L133.9 171.6L134.9 170.9L135.8 170.2L136.8 169.5L137.7 168.7L138.6 167.9L139.5 167.1L140.4 166.3L141.3 165.4L142.2 164.5L143.1 163.6L144.0 162.7L144.9 161.8L145.8 160.9L146.7 160.0L147.6 159.2L148.6 158.4L149.5 157.6L150.4 156.8L151.4 156.1L152.4 155.4L153.4 154.7L154.4 154.1L155.4 153.5L156.4 153.0L157.5 152.5L158.5 152.1L159.6 151.6L160.7 151.2L161.8 150.9L162.9 150.6L164.0 150.3L165.1 150.0L166.3 149.7L167.4 149.5L168.6 149.3L169.7 149.1L170.9 149.0L172.1 148.9L173.3 148.8L174.5 148.7L175.7 148.6L176.9 148.5L178.1 148.5L179.3 148.4L180.5 148.4L181.7 148.4L182.9 148.4L184.2 148.4L185.4 148.4L186.6 148.4L187.8 148.5L189.1 148.5L190.3 148.5L191.5 148.5L192.8 148.6L194.0 148.6L195.2 148.6L196.4 148.6L197.7 148.7L198.9 148.7L200.1 148.7L201.3 148.7L202.5 148.6L203.7 148.6L204.9 148.6L206.1 148.5L207.3 148.4L208.5 148.3L209.7 148.2L210.9 148.1L212.0 148.0L213.2 147.8L214.3 147.6L215.4 147.4L216.6 147.1L217.7 146.9L218.8 146.6L219.9 146.3L221.0 145.9L222.0 145.5L223.1 145.1L224.1 144.7L225.2 144.2L226.2 143.7L227.2 143.1L228.2 142.6L229.2 142.0L230.2 141.4L231.2 140.8L232.2 140.1L233.1 139.4L234.1 138.7L235.0 138.0L236.0 137.3L236.9 136.5L237.9 135.8L238.8 135.0L239.7 134.2L240.7 133.4L241.6 132.6L242.5 131.8L243.4 131.0L244.3 130.2L245.2 129.3L246.2 128.5L247.1 127.6L248.0 126.8L248.9 126.0L249.8 125.1L250.8 124.3L251.7 123.4L252.6 122.6L253.5 121.8L254.5 121.0L255.4 120.2L256.4 119.4L257.3 118.6L258.3 117.8L259.2 117.0L260.2 116.3L261.2 115.5L262.2 114.8L263.2 114.1L264.2 113.4L265.2 112.7L266.2 112.1L267.2 111.4L268.2 110.8L269.3 110.2L270.3 109.6L271.4 109.1L272.5 108.5L273.5 108.0L274.6 107.4L275.7 106.9L276.8 106.5L277.9 106.0L279.0 105.5L280.1 105.1L281.2 104.7L282.3 104.3L283.4 103.9L284.6 103.6L285.7 103.2L286.8 102.9L288.0 102.6L289.1 102.3L290.3 102.0L291.4 101.7L292.6 101.5L293.7 101.2L294.9 101.0L296.0 100.8L297.2 100.6L298.4 100.4L299.6 100.3L300.7 100.2L301.9 100.0L303.1 99.9L304.3 99.8L305.4 99.7L306.6 99.7L307.8 99.6L309.0 99.5L310.2 99.5L311.4 99.5L312.6 99.4L313.8 99.4L315.0 99.4L316.1 99.4L317.3 99.4L318.5 99.4L319.7 99.3L320.9 99.3L322.1 99.3L323.3 99.3L324.5 99.3L325.7 99.3L326.9 99.3L328.1 99.3L329.3 99.3L330.5 99.2L331.7 99.2L332.9 99.1L334.1 99.1L335.3 99.0L336.5 99.0L337.7 98.9L338.8 98.8L340.0 98.7L341.2 98.6L342.4 98.6L343.6 98.5L344.8 98.4L346.0 98.3L347.2 98.2L348.4 98.1L349.6 98.1L350.8 98.0L352.0 97.9L353.1 97.9L354.3 97.8L355.5 97.8L356.7 97.8L357.9 97.8L359.1 97.8L360.3 97.8L361.5 97.9L362.7 97.9L364.0 98.0L365.2 98.1L366.4 98.2L367.6 98.4L368.8 98.5L370.0 98.7" fill="none" stroke="#a0a0a0" stroke-width="1.4"/>
<path d="M54.5 83.8L55.0 84.9L55.6 85.9L56.1 87.0L56.7 88.1L57.2 89.1L57.8 90.2L58.4 91.3L58.9 92.3L59.5 93.4L60.1 94.4L60.7 95.5L61.2 96.5L61.8 97.6L62.4 98.7L63.0 99.7L63.6 100.8L64.2 101.8L64.8 102.9L65.3 104.0L65.9 105.0L66.5 106.1L67.1 107.1L67.7 108.2L68.2 109.3L68.8 110.3L69.4 111.4L69.9 112.5L70.5 113.5L71.0 114.6L71.5 115.7L72.1 116.7L72.6 117.8L73.1 118.9L73.6 120.0L74.1 121.1L74.6 122.2L75.1 123.3L75.5 124.4L76.0 125.5L76.4 126.6L76.8 127.7L77.3 128.8L77.7 129.9L78.1 131.0L78.4 132.1L78.8 133.2L79.2 134.4L79.6 135.5L79.9 136.6L80.3 137.8L80.7 138.9L81.0 140.0L81.4 141.1L81.8 142.3L82.2 143.4L82.6 144.5L83.0 145.7L83.5 146.8L83.9 147.9L84.4 149.0L84.9 150.1L85.4 151.2L85.9 152.4L86.4 153.5L87.0 154.6L87.6 155.7L88.3 156.8L88.9 157.8L89.6 158.9L90.4 160.0L91.1 161.1L91.9 162.1L92.8 163.2L93.6 164.2L94.5 165.2L95.4 166.2L96.4 167.2L97.4 168.1L98.4 169.1L99.4 170.0L100.4 170.8L101.4 171.6L102.5 172.4L103.6 173.2L104.6 173.9L105.7 174.5L106.8 175.1L107.9 175.7L109.0 176.2L110.1 176.6L111.2 177.0L112.3 177.4L113.4 177.6L114.4 177.8L115.5 177.9L116.5 178.0L117.6 177.9L118.6 177.9L119.6 177.7L120.6 177.5L121.7 177.3L122.7 177.0L123.6 176.6L124.6 176.2L125.6 175.8L126.6 175.3L127.6 174.7L128.5 174.2L129.5 173.6L130.4 173.0L131.4 172.3L132.3 171.6L133.3 170.9L134.2 170.2L135.2 169.4L136.1 168.7L137.1 167.9L138.0 167.1L139.0 166.3L139.9 165.5L140.9 164.7L141.9 163.9L142.8 163.1L143.8 162.3L144.7 161.6L145.7 160.8L146.7 160.0L147.7 159.3L148.7 158.6L149.6 157.9L150.6 157.2L151.7 156.6L152.7 155.9L153.7 155.4L154.7 154.8L155.8 154.3L156.8 153.8L157.9 153.4L158.9 152.9L160.0 152.5L161.1 152.2L162.2 151.8L163.3 151.5L164.4 151.2L165.5 151.0L166.6 150.7L167.7 150.5L168.8 150.3L170.0 150.2L171.1 150.0L172.3 149.9L173.4 149.8L174.6 149.7L175.7 149.6L176.9 149.6L178.1 149.5L179.3 149.5L180.4 149.5L181.6 149.5L182.8 149.5L184.0 149.5L185.2 149.6L186.4 149.6L187.6 149.7L188.8 149.7L190.1 149.8L191.3 149.8L192.5 149.9L193.7 150.0L194.9 150.1L196.2 150.1L197.4 150.2L198.6 150.3L199.8 150.4L201.0 150.4L202.3 150.5L203.5 150.5L204.7 150.5L205.9 150.5L207.1 150.5L208.3 150.5L209.4 150.5L210.6 150.4L211.8 150.4L212.9 150.3L214.1 150.1L215.2 150.0L216.4 149.8L217.5 149.6L218.6 149.4L219.7 149.2L220.8 148.9L221.9 148.6L222.9 148.2L224.0 147.8L225.0 147.4L226.0 146.9L227.1 146.4L228.0 145.9L229.0 145.3L230.0 144.7L231.0 144.1L231.9 143.4L232.9 142.8L233.8 142.0L234.7 141.3L235.6 140.6L236.5 139.8L237.4 139.0L238.3 138.2L239.2 137.4L240.1 136.5L241.0 135.7L241.9 134.8L242.8 134.0L243.6 133.1L244.5 132.2L245.4 131.3L246.3 130.4L247.1 129.5L248.0 128.6L248.9 127.7L249.8 126.8L250.6 125.8L251.5 124.9L252.4 124.0L253.3 123.2L254.2 122.3L255.1 121.4L256.0 120.5L256.9 119.7L257.9 118.9L258.8 118.0L259.7 117.2L260.7 116.4L261.7 115.7L262.6 114.9L263.6 114.2L264.6 113.5L265.6 112.8L266.6 112.1L267.6 111.5L268.7 110.8L269.7 110.2L270.7 109.6L271.8 109.0L272.8 108.5L273.9 107.9L275.0 107.4L276.0 106.9L277.1 106.4L278.2 105.9L279.3 105.4L280.4 105.0L281.5 104.6L282.7 104.2L283.8 103.8L284.9 103.4L286.0 103.1L287.2 102.8L288.3 102.5L289.4 102.2L290.6 101.9L291.7 101.6L292.9 101.4L294.1 101.2L295.2 101.0L296.4 100.8L297.6 100.6L298.7 100.4L299.9 100.3L301.1 100.2L302.3 100.1L303.4 100.0L304.6 99.9L305.8 99.8L307.0 99.8L308.2 99.7L309.4 99.7L310.6 99.6L311.7 99.6L312.9 99.6L314.1 99.5L315.3 99.5L316.5 99.5L317.7 99.5L318.9 99.5L320.1 99.5L321.3 99.5L322.5 99.4L323.7 99.4L324.9 99.4L326.1 99.4L327.3 99.4L328.5 99.3L329.7 99.3L330.9 99.2L332.1 99.2L333.3 99.1L334.5 99.0L335.7 99.0L336.8 98.9L338.0 98.8L339.2 98.7L340.4 98.6L341.6 98.5L342.8 98.4L344.0 98.3L345.2 98.2L346.4 98.2L347.6 98.1L348.8 98.0L350.0 97.9L351.1 97.9L352.3 97.8L353.5 97.8L354.7 97.8L355.9 97.8L357.1 97.8L358.3 97.8L359.5 97.8L360.7 97.9L361.9 98.0L363.2 98.1L364.4 98.2L365.6 98.4L366.8 98.5L368.0 98.7" fill="none" stroke="#a0a0a0" stroke-width="1.4"/>
<path d="M54.5 99.3L55.5 100.8L56.5 102.2L57.5 103.6L58.5 104.9L59.5 106.1L60.5 107.3L61.5 108.5L62.5 109.7L63.5 110.9L64.5 112.1L65.5 113.4L66.5 114.8L67.5 116.4L68.5 118.1L69.5 119.8L70.5 121.7L71.5 123.6L72.5 125.6L73.5 127.7L74.5 129.9L75.5 132.5L76.5 135.5L77.5 138.6L78.5 141.5L79.5 144.0L80.5 145.7L81.5 146.8L82.5 147.9L83.5 149.3L84.5 151.1L85.5 153.1L86.5 155.2L87.5 157.4L88.5 159.3L89.5 160.9L90.5 162.4L91.5 163.7L92.5 164.8L93.5 165.8L94.5 166.7L95.5 167.6L96.5 168.4L97.5 169.2L98.5 170.0L99.5 170.8L100.5 171.4L101.5 171.9L102.5 172.4L103.5 172.9L104.5 173.3L105.5 173.6L106.5 173.8L107.5 174.0L108.5 174.1L109.5 174.2L110.5 174.3L111.5 174.3L112.5 174.3L113.5 174.1L114.5 173.7L115.5 173.3L116.5 172.7L117.5 172.1L118.5 171.5L119.5 170.9L120.5 170.2L121.5 169.2L122.5 168.1L123.5 167.3L124.5 166.7L125.5 166.6L126.5 166.5L127.5 166.5" fill="none" stroke="#000" stroke-width="2.2"/>
<path d="M54.5 8.3L55.5 9.6L56.5 11.0L57.5 12.3L58.5 13.6L59.5 14.9L60.5 16.1L61.5 17.3L62.5 18.7L63.5 20.2L64.5 21.8L65.5 23.5L66.5 25.3L67.5 27.2L68.5 29.1L69.5 31.1L70.5 33.2L71.5 35.3L72.5 37.4L73.5 39.6L74.5 41.8L75.5 44.1L76.5 46.4L77.5 48.8L78.5 51.3L79.5 53.8L80.5 56.5L81.5 59.2L82.5 62.0L83.5 64.8L84.5 67.7L85.5 70.7L86.5 73.8L87.5 77.0L88.5 80.2L89.5 83.5L90.5 86.8L91.5 90.1L92.5 93.3L93.5 96.3L94.5 99.2L95.5 101.9L96.5 104.5L97.5 107.2L98.5 110.3L99.5 113.8L100.5 117.3L101.5 120.5L102.5 123.3L103.5 126.0L104.5 128.6L105.5 131.3L106.5 134.1L107.5 136.9L108.5 139.7L109.5 142.5L110.5 145.2L111.5 147.8L112.5 150.0L113.5 151.8L114.5 153.4L115.5 154.8L116.5 156.2L117.5 157.4L118.5 158.5L119.5 159.6L120.5 160.6L121.5 161.8L122.5 163.0L123.5 164.1L124.5 164.8L125.5 165.0L126.5 164.8L127.5 164.3L128.5 163.7L129.5 163.0L130.5 162.2L131.5 161.3L132.5 160.2L133.5 159.0L134.5 158.0L135.5 156.8L136.5 155.6L137.5 154.4L138.5 153.2L139.5 152.0L140.5 150.7L141.5 149.5L142.5 148.3L143.5 147.3L144.5 146.2L145.5 145.2L146.5 144.2L147.5 143.4L148.5 142.7L149.5 142.2L150.5 141.8L151.5 141.4L152.5 141.1L153.5 140.8L154.5 140.6L155.5 140.3L156.5 140.1L157.5 139.9L158.5 139.7L159.5 139.5L160.5 139.4L161.5 139.2L162.5 139.0L163.5 138.8L164.5 138.6L165.5 138.4L166.5 138.1L167.5 137.9L168.5 137.7L169.5 137.4L170.5 137.2L171.5 137.1L172.5 137.0L173.5 136.9L174.5 136.8L175.5 136.7L176.5 136.7L177.5 136.6L178.5 136.5L179.5 136.5L180.5 136.3L181.5 136.2L182.5 136.1L183.5 135.9L184.5 135.7L185.5 135.5L186.5 135.3L187.5 135.1L188.5 134.9L189.5 134.6L190.5 134.4L191.5 134.1L192.5 133.8L193.5 133.5L194.5 133.1L195.5 132.8L196.5 132.4L197.5 132.0L198.5 131.7L199.5 131.3L200.5 130.9L201.5 130.4L202.5 130.0L203.5 129.5L204.5 129.1L205.5 128.7L206.5 128.3L207.5 127.9L208.5 127.6L209.5 127.3L210.5 127.0L211.5 126.7L212.5 126.4L213.5 126.1L214.5 125.9L215.5 125.6L216.5 125.3L217.5 125.0L218.5 124.7L219.5 124.4L220.5 124.1L221.5 123.8L222.5 123.5L223.5 123.2L224.5 122.8L225.5 122.5L226.5 122.2L227.5 121.9L228.5 121.6L229.5 121.3L230.5 121.0L231.5 120.7L232.5 120.4L233.5 120.0L234.5 119.7L235.5 119.4L236.5 119.0L237.5 118.7L238.5 118.3L239.5 117.9L240.5 117.5L241.5 117.1L242.5 116.7L243.5 116.3L244.5 115.9L245.5 115.5L246.5 115.1L247.5 114.6L248.5 114.1L249.5 113.6L250.5 113.1L251.5 112.5L252.5 112.1L253.5 111.7L254.5 111.4L255.5 111.2L256.5 111.1L257.5 111.1L258.5 111.1L259.5 111.1L260.5 111.1L261.5 111.0L262.5 110.6L263.5 110.2L264.5 109.6L265.5 109.1L266.5 108.6L267.5 108.3L268.5 107.9L269.5 107.5L270.5 107.1L271.5 106.7L272.5 106.4L273.5 106.1L274.5 105.8L275.5 105.6L276.5 105.4L277.5 105.3L278.5 105.1L279.5 105.0L280.5 104.9L281.5 104.8L282.5 104.7L283.5 104.6L284.5 104.5L285.5 104.4L286.5 104.2L287.5 104.1L288.5 103.9L289.5 103.6L290.5 103.0L291.5 102.2L292.5 101.3L293.5 100.4L294.5 99.7L295.5 99.4L296.5 99.1L297.5 98.9L298.5 98.7L299.5 98.6L300.5 98.6L301.5 98.6L302.5 98.6L303.5 98.7L304.5 98.7L305.5 98.8L306.5 98.9L307.5 99.0L308.5 99.0L309.5 99.1L310.5 99.2L311.5 99.3L312.5 99.3L313.5 99.4L314.5 99.5L315.5 99.7L316.5 99.8L317.5 99.9L318.5 100.0L319.5 100.2L320.5 100.3L321.5 100.4L322.5 100.4L323.5 100.5L324.5 100.5L325.5 100.5L326.5 100.4L327.5 100.3L328.5 100.1L329.5 99.9L330.5 99.7L331.5 99.5L332.5 99.2L333.5 99.0L334.5 98.8L335.5 98.6L336.5 98.4L337.5 98.2L338.5 97.9L339.5 97.7L340.5 97.5L341.5 97.3L342.5 97.2L343.5 97.1L344.5 97.1L345.5 97.1L346.5 97.2L347.5 97.3L348.5 97.4L349.5 97.6L350.5 97.7L351.5 97.8L352.5 98.0L353.5 98.1L354.5 98.1L355.5 98.2L356.5 98.2L357.5 98.2L358.5 98.2L359.5 98.2L360.5 98.3L361.5 98.3L362.5 98.3L363.5 98.3L364.5 98.3L365.5 98.3L366.5 98.3L367.5 98.3L368.5 98.3L369.5 98.3" fill="none" stroke="#000" stroke-width="2.4"/>
<path d="M54.4 8.2V189H370" fill="none" stroke="#000" stroke-width="2.1"/>
<line x1="48.4" y1="8.20" x2="54.4" y2="8.20" stroke="#000" stroke-width="2.1"/>
<line x1="48.4" y1="38.33" x2="54.4" y2="38.33" stroke="#000" stroke-width="2.1"/>
<line x1="48.4" y1="68.47" x2="54.4" y2="68.47" stroke="#000" stroke-width="2.1"/>
<line x1="48.4" y1="98.60" x2="54.4" y2="98.60" stroke="#000" stroke-width="2.1"/>
<line x1="48.4" y1="128.73" x2="54.4" y2="128.73" stroke="#000" stroke-width="2.1"/>
<line x1="48.4" y1="158.87" x2="54.4" y2="158.87" stroke="#000" stroke-width="2.1"/>
<line x1="48.4" y1="189.00" x2="54.4" y2="189.00" stroke="#000" stroke-width="2.1"/>
<line x1="54.40" y1="189" x2="54.40" y2="195" stroke="#000" stroke-width="2.1"/>
<line x1="144.60" y1="189" x2="144.60" y2="195" stroke="#000" stroke-width="2.1"/>
<line x1="234.80" y1="189" x2="234.80" y2="195" stroke="#000" stroke-width="2.1"/>
<line x1="325.00" y1="189" x2="325.00" y2="195" stroke="#000" stroke-width="2.1"/>
<path d="M118.40 296.40C122.04 295.98 132.98 294.32 140.27 293.90C147.56 293.48 154.84 292.88 162.13 293.90C169.42 294.92 176.71 299.05 184.00 300.00C191.29 300.95 198.58 297.62 205.87 299.60C213.16 301.58 220.44 304.70 227.73 311.90C235.02 319.10 242.31 333.07 249.60 342.80C256.89 352.53 264.18 361.02 271.47 370.30C278.76 379.58 286.04 389.60 293.33 398.50C300.62 407.40 307.91 418.72 315.20 423.70C322.49 428.68 329.78 426.92 337.07 428.40C344.36 429.88 351.64 431.85 358.93 432.60C366.22 433.35 377.16 432.85 380.80 432.90" fill="none" stroke="#000" stroke-width="1.6"/>
<path d="M118.40 290.80L123.80 296.40L118.40 302.00L113.00 296.40Z" fill="none" stroke="#000" stroke-width="1.4"/>
<path d="M140.27 288.30L145.67 293.90L140.27 299.50L134.87 293.90Z" fill="none" stroke="#000" stroke-width="1.4"/>
<path d="M162.13 288.30L167.53 293.90L162.13 299.50L156.73 293.90Z" fill="none" stroke="#000" stroke-width="1.4"/>
<path d="M184.00 294.40L189.40 300.00L184.00 305.60L178.60 300.00Z" fill="none" stroke="#000" stroke-width="1.4"/>
<path d="M205.87 294.00L211.27 299.60L205.87 305.20L200.47 299.60Z" fill="none" stroke="#000" stroke-width="1.4"/>
<path d="M227.73 306.30L233.13 311.90L227.73 317.50L222.33 311.90Z" fill="none" stroke="#000" stroke-width="1.4"/>
<path d="M249.60 337.20L255.00 342.80L249.60 348.40L244.20 342.80Z" fill="none" stroke="#000" stroke-width="1.4"/>
<path d="M271.47 364.70L276.87 370.30L271.47 375.90L266.07 370.30Z" fill="none" stroke="#000" stroke-width="1.4"/>
<path d="M293.33 392.90L298.73 398.50L293.33 404.10L287.93 398.50Z" fill="none" stroke="#000" stroke-width="1.4"/>
<path d="M315.20 418.10L320.60 423.70L315.20 429.30L309.80 423.70Z" fill="none" stroke="#000" stroke-width="1.4"/>
<path d="M337.07 422.80L342.47 428.40L337.07 434.00L331.67 428.40Z" fill="none" stroke="#000" stroke-width="1.4"/>
<path d="M358.93 427.00L364.33 432.60L358.93 438.20L353.53 432.60Z" fill="none" stroke="#000" stroke-width="1.4"/>
<path d="M380.80 427.30L386.20 432.90L380.80 438.50L375.40 432.90Z" fill="none" stroke="#000" stroke-width="1.4"/>
<path d="M118.4 267.7V460.3H381.6" fill="none" stroke="#000" stroke-width="2.1"/>
<line x1="112" y1="267.70" x2="118.4" y2="267.70" stroke="#000" stroke-width="2.1"/>
<line x1="112" y1="295.21" x2="118.4" y2="295.21" stroke="#000" stroke-width="2.1"/>
<line x1="112" y1="322.73" x2="118.4" y2="322.73" stroke="#000" stroke-width="2.1"/>
<line x1="112" y1="350.24" x2="118.4" y2="350.24" stroke="#000" stroke-width="2.1"/>
<line x1="112" y1="377.76" x2="118.4" y2="377.76" stroke="#000" stroke-width="2.1"/>
<line x1="112" y1="405.27" x2="118.4" y2="405.27" stroke="#000" stroke-width="2.1"/>
<line x1="112" y1="432.79" x2="118.4" y2="432.79" stroke="#000" stroke-width="2.1"/>
<line x1="112" y1="460.30" x2="118.4" y2="460.30" stroke="#000" stroke-width="2.1"/>
<line x1="118.40" y1="460.3" x2="118.40" y2="466.7" stroke="#000" stroke-width="2.1"/>
<line x1="205.87" y1="460.3" x2="205.87" y2="466.7" stroke="#000" stroke-width="2.1"/>
<line x1="293.33" y1="460.3" x2="293.33" y2="466.7" stroke="#000" stroke-width="2.1"/>
<line x1="380.80" y1="460.3" x2="380.80" y2="466.7" stroke="#000" stroke-width="2.1"/>
<text x="36.5" y="13.80" text-anchor="end" fill="#595959" stroke="#595959" stroke-width="0.3" font-size="17" font-weight="bold">6</text>
<text x="36.5" y="43.93" text-anchor="end" fill="#595959" stroke="#595959" stroke-width="0.3" font-size="17" font-weight="bold">4</text>
<text x="36.5" y="74.07" text-anchor="end" fill="#595959" stroke="#595959" stroke-width="0.3" font-size="17" font-weight="bold">2</text>
<text x="36.5" y="104.20" text-anchor="end" fill="#595959" stroke="#595959" stroke-width="0.3" font-size="17" font-weight="bold">0</text>
<text x="36.5" y="134.33" text-anchor="end" fill="#595959" stroke="#595959" stroke-width="0.3" font-size="17" font-weight="bold">-2</text>
<text x="36.5" y="164.47" text-anchor="end" fill="#595959" stroke="#595959" stroke-width="0.3" font-size="17" font-weight="bold">-4</text>
<text x="36.5" y="194.60" text-anchor="end" fill="#595959" stroke="#595959" stroke-width="0.3" font-size="17" font-weight="bold">-6</text>
<text x="54.70" y="219.8" text-anchor="middle" fill="#000" stroke="#000" stroke-width="0.3" font-size="17.8" font-weight="bold" textLength="28" lengthAdjust="spacingAndGlyphs">190</text>
<text x="144.90" y="219.8" text-anchor="middle" fill="#000" stroke="#000" stroke-width="0.3" font-size="17.8" font-weight="bold" textLength="28" lengthAdjust="spacingAndGlyphs">210</text>
<text x="235.10" y="219.8" text-anchor="middle" fill="#000" stroke="#000" stroke-width="0.3" font-size="17.8" font-weight="bold" textLength="28" lengthAdjust="spacingAndGlyphs">230</text>
<text x="325.30" y="219.8" text-anchor="middle" fill="#000" stroke="#000" stroke-width="0.3" font-size="17.8" font-weight="bold" textLength="28" lengthAdjust="spacingAndGlyphs">250</text>
<text x="198.2" y="242.2" text-anchor="middle" fill="#595959" font-size="17" font-weight="bold" textLength="135" lengthAdjust="spacingAndGlyphs">Wavelength (nm)</text>
<text transform="translate(14.9 125.6) rotate(-90)" text-anchor="middle" fill="#595959" stroke="#595959" stroke-width="0.3" font-size="16.5" font-weight="bold">CD (&#916;&#949;)</text>
<text x="99.2" y="273.70" text-anchor="end" fill="#000" stroke="#000" stroke-width="0.3" font-size="17" font-weight="bold" textLength="32.6" lengthAdjust="spacingAndGlyphs">0.31</text>
<text x="99.2" y="301.21" text-anchor="end" fill="#000" stroke="#000" stroke-width="0.3" font-size="17" font-weight="bold" textLength="32.6" lengthAdjust="spacingAndGlyphs">0.29</text>
<text x="99.2" y="328.73" text-anchor="end" fill="#000" stroke="#000" stroke-width="0.3" font-size="17" font-weight="bold" textLength="32.6" lengthAdjust="spacingAndGlyphs">0.27</text>
<text x="99.2" y="356.24" text-anchor="end" fill="#000" stroke="#000" stroke-width="0.3" font-size="17" font-weight="bold" textLength="32.6" lengthAdjust="spacingAndGlyphs">0.25</text>
<text x="99.2" y="383.76" text-anchor="end" fill="#000" stroke="#000" stroke-width="0.3" font-size="17" font-weight="bold" textLength="32.6" lengthAdjust="spacingAndGlyphs">0.23</text>
<text x="99.2" y="411.27" text-anchor="end" fill="#000" stroke="#000" stroke-width="0.3" font-size="17" font-weight="bold" textLength="32.6" lengthAdjust="spacingAndGlyphs">0.21</text>
<text x="99.2" y="438.79" text-anchor="end" fill="#000" stroke="#000" stroke-width="0.3" font-size="17" font-weight="bold" textLength="32.6" lengthAdjust="spacingAndGlyphs">0.19</text>
<text x="99.2" y="466.30" text-anchor="end" fill="#000" stroke="#000" stroke-width="0.3" font-size="17" font-weight="bold" textLength="32.6" lengthAdjust="spacingAndGlyphs">0.17</text>
<text x="118.60" y="491.2" text-anchor="middle" fill="#595959" stroke="#595959" stroke-width="0.3" font-size="17" font-weight="bold">20</text>
<text x="206.07" y="491.2" text-anchor="middle" fill="#595959" stroke="#595959" stroke-width="0.3" font-size="17" font-weight="bold">40</text>
<text x="293.53" y="491.2" text-anchor="middle" fill="#595959" stroke="#595959" stroke-width="0.3" font-size="17" font-weight="bold">60</text>
<text x="381.00" y="491.2" text-anchor="middle" fill="#595959" stroke="#595959" stroke-width="0.3" font-size="17" font-weight="bold">80</text>
<text x="234.4" y="507.6" text-anchor="middle" fill="#595959" font-size="16.5" font-weight="bold" textLength="132.4" lengthAdjust="spacingAndGlyphs">Temperature (<tspan font-size="10" dy="-6">o</tspan><tspan dy="6">C)</tspan></text>
<text transform="translate(22.6 387.4) rotate(-90)" text-anchor="middle" fill="#595959" stroke="#595959" stroke-width="0.55" font-size="17.8" textLength="196" lengthAdjust="spacingAndGlyphs">Fraction of the first basis</text>
<text transform="translate(44.6 386.7) rotate(-90)" text-anchor="middle" fill="#595959" stroke="#595959" stroke-width="0.55" font-size="17.8" textLength="71.6" lengthAdjust="spacingAndGlyphs">spectrum</text>
</svg>
</body></html>
